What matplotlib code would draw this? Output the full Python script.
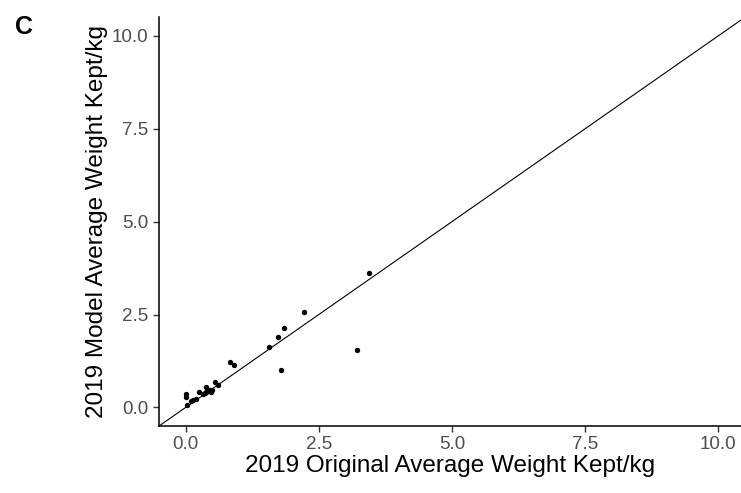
import matplotlib
matplotlib.use("Agg")
import matplotlib.pyplot as plt

plt.rcParams['font.family'] = ['Liberation Sans', 'DejaVu Sans']

# original vs model average weight kept (kg), 2019
original_kg = [3.44, 2.22, 1.855, 1.74, 1.57, 1.79, 3.21, 0.84, 0.90,
               0.545, 0.61, 0.39, 0.45, 0.50, 0.39, 0.33, 0.25, 0.20,
               0.14, 0.11, 0.0, 0.0, 0.03, 0.42, 0.47, 0.36]
model_kg = [3.61, 2.57, 2.14, 1.905, 1.62, 1.02, 1.55, 1.23, 1.14,
            0.69, 0.61, 0.54, 0.47, 0.47, 0.41, 0.36, 0.41, 0.23,
            0.21, 0.16, 0.35, 0.27, 0.06, 0.45, 0.42, 0.40]
ticks = [0.0, 2.5, 5.0, 7.5, 10.0]

fig = plt.figure(figsize=(7.41, 4.93), dpi=100)
ax = fig.add_axes([0.2146, 0.1359, 0.7854, 0.8288])

ax.axline((0, 0), slope=1, color='black', lw=0.8, zorder=1)
ax.scatter(original_kg, model_kg, s=15, color='black', linewidths=0, zorder=2)

ax.set_xlim(-0.5, 10.43)
ax.set_ylim(-0.5, 10.5)
ax.set_xticks(ticks)
ax.set_yticks(ticks)
ax.set_xticklabels([f"{t:.1f}" for t in ticks])
ax.set_yticklabels([f"{t:.1f}" for t in ticks])
ax.tick_params(colors='#333333', labelcolor='#4d4d4d', labelsize=13.5,
               length=4, width=1)

for side in ['top', 'right']:
    ax.spines[side].set_visible(False)
for side in ['left', 'bottom']:
    ax.spines[side].set_linewidth(1.1)

ax.set_xlabel("2019 Original Average Weight Kept/kg", fontsize=17.5, labelpad=1)
ax.set_ylabel("2019 Model Average Weight Kept/kg", fontsize=17.5, labelpad=3)

fig.text(0.02, 0.945, "C", fontsize=18, fontweight='bold', ha='left', va='center')

fig.savefig("out.png", dpi=100)
